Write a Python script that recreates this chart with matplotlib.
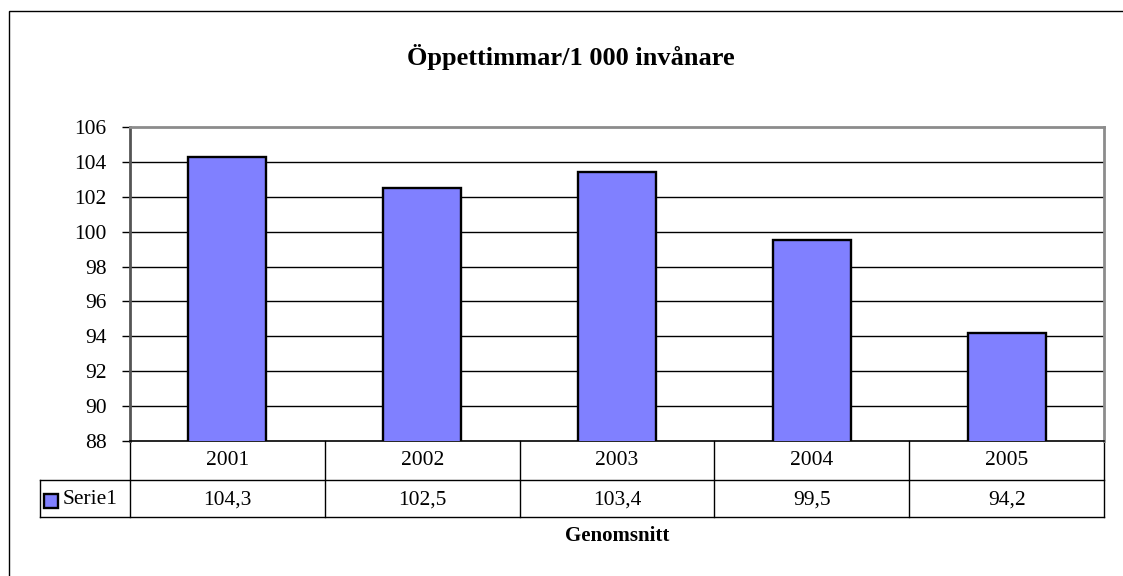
import matplotlib
matplotlib.use("Agg")
import matplotlib.pyplot as plt
from matplotlib.patches import Rectangle
from matplotlib.lines import Line2D

plt.rcParams["font.family"] = ["Liberation Serif", "DejaVu Serif"]

title = "Öppettimmar/1 000 invånare"
xlabel = "Genomsnitt"
series_name = "Serie1"
years = ["2001", "2002", "2003", "2004", "2005"]
values = [104.3, 102.5, 103.4, 99.5, 94.2]
value_labels = ["104,3", "102,5", "103,4", "99,5", "94,2"]
yticks = [88, 90, 92, 94, 96, 98, 100, 102, 104, 106]

W, H = 1123, 576
BAR = "#8080FF"
FS = 15.5

fig = plt.figure(figsize=(W / 100, H / 100), dpi=100)

# outer chart frame
fig.add_artist(Rectangle((9 / W, -0.1), 1.2, 1 - 11 / H + 0.1, transform=fig.transFigure,
                         fill=False, edgecolor="black", lw=1.0))

# plot area in pixels
L, R, T, B = 130, 1104, 127, 441
ax = fig.add_axes([L / W, 1 - B / H, (R - L) / W, (B - T) / H])

x = list(range(len(years)))
ax.bar(x, values, width=0.4, color=BAR, edgecolor="black", linewidth=1.7, zorder=3)
ax.set_xlim(-0.5, len(years) - 0.5)
ax.set_ylim(88, 106)
ax.set_yticks(yticks)
ax.set_yticklabels([str(t) for t in yticks], fontsize=FS)
ax.set_xticks([])
ax.tick_params(axis="y", direction="out", length=6, width=1.0, color="black", pad=11)
for t in yticks[1:-1]:
    ax.axhline(t, color="black", lw=1.0, zorder=1)

for side in ["top", "right"]:
    ax.spines[side].set_color("#8c8c8c")
    ax.spines[side].set_linewidth(2.0)
ax.spines["left"].set_color("#555555")
ax.spines["left"].set_linewidth(2.0)
ax.spines["bottom"].set_color("black")
ax.spines["bottom"].set_linewidth(1.2)

# data table under the plot
ph = B - T
pw = R - L
r1 = -(480 - B) / ph
r2 = -(517 - B) / ph
tr = ax.get_xaxis_transform()

def hline(x0, x1, y, lw=1.0):
    ax.add_line(Line2D([x0, x1], [y, y], transform=tr, color="black", lw=lw, clip_on=False))

def vline(xx, y0, y1, lw=1.0):
    ax.add_line(Line2D([xx, xx], [y0, y1], transform=tr, color="black", lw=lw, clip_on=False))

leg_left = -0.5 + (40 - L) / pw * len(years)
hline(leg_left, len(years) - 0.5, r1)
hline(leg_left, len(years) - 0.5, r2)
vline(leg_left, r1, r2)
for i in range(len(years) + 1):
    vline(i - 0.5, 0, r2)

nudge = 2 / ph
for i, (yr, vl) in enumerate(zip(years, value_labels)):
    ax.text(i, r1 / 2, yr, transform=tr, ha="center", va="center", fontsize=FS)
    ax.text(i, (r1 + r2) / 2 - nudge, vl, transform=tr, ha="center", va="center", fontsize=FS)

# legend key in table
fig.add_artist(Rectangle((44 / W, 1 - 508 / H), 14 / W, 14 / H, transform=fig.transFigure,
                         facecolor=BAR, edgecolor="black", lw=1.7))
fig.text(63 / W, 1 - 499 / H, series_name, ha="left", va="center", fontsize=FS)

fig.text(571 / W, 1 - 57 / H, title, ha="center", va="center", fontsize=19, fontweight="bold")
fig.text((L + R) / 2 / W, 1 - 536 / H, xlabel, ha="center", va="center", fontsize=15,
         fontweight="bold")

fig.savefig("out.png", dpi=100)
